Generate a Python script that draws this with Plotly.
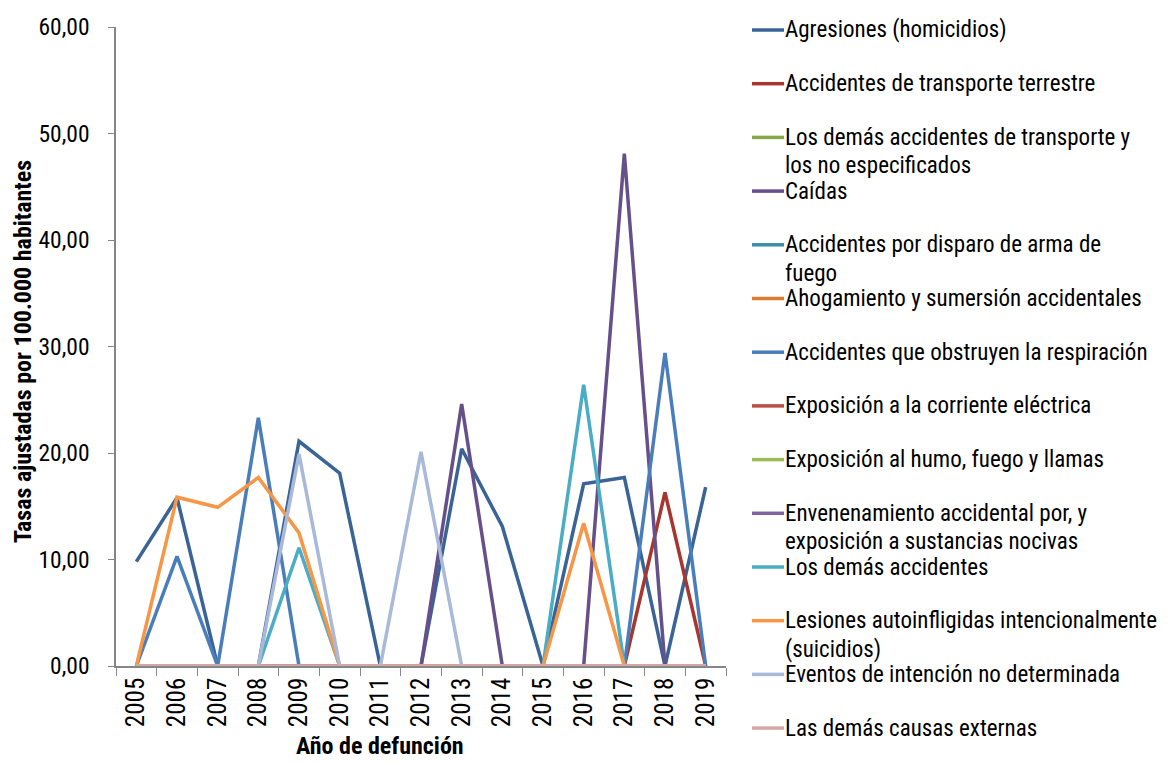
import plotly.graph_objects as go

years = [str(y) for y in range(2005, 2020)]

series_names = [
    "Agresiones (homicidios)",
    "Accidentes de transporte terrestre",
    "Los demás accidentes de transporte y los no especificados",
    "Caídas",
    "Accidentes por disparo de arma de fuego",
    "Ahogamiento y sumersión accidentales",
    "Accidentes que obstruyen la respiración",
    "Exposición a la corriente eléctrica",
    "Exposición al humo, fuego y llamas",
    "Envenenamiento accidental por, y exposición a sustancias nocivas",
    "Los demás accidentes",
    "Lesiones autoinfligidas intencionalmente (suicidios)",
    "Eventos de intención no determinada",
    "Las demás causas externas",
]

legend_lines = [
    ["Agresiones (homicidios)"],
    ["Accidentes de transporte terrestre"],
    ["Los demás accidentes de transporte y", "los no especificados"],
    ["Caídas"],
    ["Accidentes por disparo de arma de", "fuego"],
    ["Ahogamiento y sumersión accidentales"],
    ["Accidentes que obstruyen la respiración"],
    ["Exposición a la corriente eléctrica"],
    ["Exposición al humo, fuego y llamas"],
    ["Envenenamiento accidental por, y", "exposición a sustancias nocivas"],
    ["Los demás accidentes"],
    ["Lesiones autoinfligidas intencionalmente", "(suicidios)"],
    ["Eventos de intención no determinada"],
    ["Las demás causas externas"],
]

agresiones    = [9.8, 15.8, 0, 0, 21.1, 18.1, 0, 0, 20.4, 13.1, 0, 17.1, 17.7, 0, 16.8]
transporte    = [0, 0, 0, 0, 0, 0, 0, 0, 0, 0, 0, 0, 0, 16.3, 0]
otros_transp  = [0] * 15
caidas        = [0, 0, 0, 0, 0, 0, 0, 0, 24.6, 0, 0, 0, 48.1, 0, 0]
disparo       = [0] * 15
ahogamiento   = [0] * 15
obstruyen     = [0, 10.3, 0, 23.3, 0, 0, 0, 0, 0, 0, 0, 0, 0, 29.4, 0]
corriente     = [0] * 15
humo          = [0] * 15
envenenam     = [0] * 15
demas_acc     = [0, 0, 0, 0, 11.1, 0, 0, 0, 0, 0, 0, 26.4, 0, 0, 0]
suicidios     = [0, 15.85, 14.9, 17.7, 12.5, 0, 0, 0, 0, 0, 0, 13.4, 0, 0, 0]
eventos       = [0, 0, 0, 0, 19.9, 0, 0, 20.1, 0, 0, 0, 0, 0, 0, 0]
demas_causas  = [0] * 15

values = [agresiones, transporte, otros_transp, caidas, disparo, ahogamiento,
          obstruyen, corriente, humo, envenenam, demas_acc, suicidios, eventos,
          demas_causas]

colors = ["#3A6496", "#A5372F", "#86A845", "#66508A", "#3B8EA5", "#DB7C32",
          "#4A7EBB", "#BE4B48", "#9BBB59", "#8064A2", "#4BACC6", "#F79646",
          "#A9B9D9", "#D8A7A5"]

FONT = "Liberation Sans Narrow, Arial Narrow, Roboto Condensed, Liberation Sans, sans-serif"

fig = go.Figure()
for name, vals, col in zip(series_names, values, colors):
    fig.add_trace(go.Scatter(x=years, y=vals, mode="lines", name=name,
                             line=dict(color=col, width=3.5), showlegend=False))

# page body adds an 8px offset; work in window pixels and subtract it
OFF = 8
W, H = 1168 - OFF, 763 - OFF
L, R, T, B = 116 - OFF, 726 - OFF, 27 - OFF, 666 - OFF


def px_x(x):
    return (x - OFF - L) / (R - L)


def px_y(y):
    return (B - (y - OFF)) / (B - T)


annotations = []
shapes = []
for i, (lines, col) in enumerate(zip(legend_lines, colors)):
    ypix = 30 + 53.7 * i
    shapes.append(dict(type="line", xref="paper", yref="paper", x0=px_x(752), x1=px_x(784),
                       y0=px_y(ypix), y1=px_y(ypix), line=dict(color=col, width=3.5)))
    for j, txt in enumerate(lines):
        annotations.append(dict(text=txt, xref="paper", yref="paper",
                                x=px_x(783), y=px_y(ypix + 28.3 * j), xanchor="left",
                                yanchor="middle", showarrow=False,
                                font=dict(family=FONT, size=23, color="#000000")))

annotations.append(dict(text="<b>Año de defunción</b>", xref="paper", yref="paper",
                        x=px_x(380), y=px_y(746), xanchor="center", yanchor="middle",
                        showarrow=False, borderpad=0,
                        font=dict(family=FONT, size=24, color="#000000")))
annotations.append(dict(text="<b>Tasas ajustadas por 100.000 habitantes</b>", xref="paper",
                        yref="paper", x=px_x(23), y=px_y(352), xanchor="center",
                        yanchor="middle", textangle=-90, showarrow=False,
                        font=dict(family=FONT, size=24, color="#000000")))

fig.update_layout(
    width=W, height=H,
    margin=dict(l=L, r=W - R, t=T, b=H - B, pad=0, autoexpand=False),
    paper_bgcolor="white", plot_bgcolor="white",
    separators=",.",
    font=dict(family=FONT, size=24, color="#000000"),
    annotations=annotations,
    shapes=shapes,
    xaxis=dict(type="category", range=[-0.5, 14.5], showgrid=False, automargin=False,
               showline=True, linecolor="#868686", linewidth=1.5,
               ticks="outside", ticklen=8, tickcolor="#868686", tickson="boundaries",
               tickangle=-90, tickfont=dict(family=FONT, size=25)),
    yaxis=dict(range=[0, 60], dtick=10, tickformat=".2f", showgrid=False, automargin=False,
               showline=True, linecolor="#868686", linewidth=1.5, zeroline=False,
               ticks="outside", ticklen=6, tickcolor="#868686",
               ticklabelstandoff=14,
               tickfont=dict(family=FONT, size=23.5)),
)

fig.write_html("out.html")
